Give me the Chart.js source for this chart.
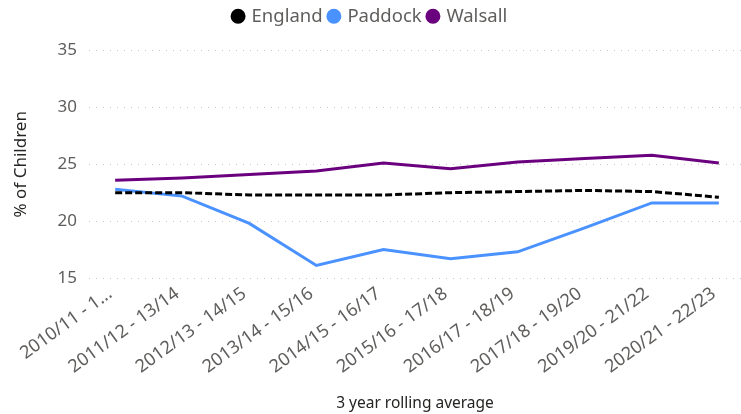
<!DOCTYPE html>
<html>
<head>
<meta charset="utf-8">
<script src="https://cdn.jsdelivr.net/npm/chart.js@4/dist/chart.umd.min.js"></script>
<style>
  html, body { margin: 0; padding: 0; background: #fff; }
  #wrap { width: 741px; height: 414px; }
</style>
</head>
<body>
<div id="wrap"><canvas id="chart" width="741" height="414"></canvas></div>
<script>
"use strict";

// data
var periods = [
  "2010/11 - 1...", "2011/12 - 13/14", "2012/13 - 14/15", "2013/14 - 15/16",
  "2014/15 - 16/17", "2015/16 - 17/18", "2016/17 - 18/19", "2017/18 - 19/20",
  "2019/20 - 21/22", "2020/21 - 22/23"
];
var england = [22.5, 22.5, 22.3, 22.3, 22.3, 22.5, 22.6, 22.7, 22.6, 22.1];
var paddock = [22.8, 22.2, 19.8, 16.1, 17.5, 16.7, 17.3, 19.4, 21.6, 21.6];
var walsall = [23.6, 23.8, 24.1, 24.4, 25.1, 24.6, 25.2, 25.5, 25.8, 25.1];
var yTicks = [15, 20, 25, 30, 35];

var greyText = "#605E5C";
var darkText = "#252423";
var fontFamily = "'Noto Sans', 'Open Sans', sans-serif";

// pair each value with its category index so the x axis can be padded unevenly
var toPoints = function(values) {
  return values.map(function(v, i) {
    return { x: i, y: v };
  });
};

var lineDataset = function(label, values, colour, dash) {
  return {
    label: label,
    data: toPoints(values),
    borderColor: colour,
    backgroundColor: colour,
    borderWidth: 3,
    borderDash: dash || [],
    pointRadius: 0,
    pointHoverRadius: 0,
    tension: 0,
    fill: false
  };
};

// leave some room between the legend and the plot
var legendGap = {
  id: "legendGap",
  beforeInit: function(chart) {
    var fit = chart.legend.fit;
    chart.legend.fit = function() {
      fit.bind(chart.legend)();
      this.height += 15;
    };
  }
};

new Chart(document.getElementById("chart"), {
  type: "line",
  data: {
    datasets: [
      lineDataset("England", england, "#000000", [7, 3]),
      lineDataset("Paddock", paddock, "#4A92FF"),
      lineDataset("Walsall", walsall, "#6B007F")
    ]
  },
  plugins: [legendGap],
  options: {
    responsive: false,
    animation: false,
    layout: { padding: 0 },
    plugins: {
      tooltip: { enabled: false },
      legend: {
        position: "top",
        labels: {
          usePointStyle: true,
          pointStyle: "circle",
          boxWidth: 8.5,
          boxHeight: 8.5,
          padding: 7,
          color: greyText,
          font: { family: fontFamily, size: 18.5 }
        }
      }
    },
    scales: {
      x: {
        type: "linear",
        min: -0.39,
        max: 9.33,
        afterBuildTicks: function(scale) {
          scale.ticks = periods.map(function(p, i) { return { value: i }; });
        },
        afterFit: function(scale) {
          scale.height = 136;
        },
        grid: { display: false },
        border: { display: false },
        ticks: {
          color: greyText,
          font: { family: fontFamily, size: 18 },
          minRotation: 36,
          maxRotation: 36,
          autoSkip: false,
          padding: -3,
          labelOffset: -5,
          callback: function(value) {
            return periods[value];
          }
        },
        title: {
          display: true,
          text: "3 year rolling average",
          color: darkText,
          font: { family: fontFamily, size: 15.5 },
          padding: { top: 0, bottom: 1 }
        }
      },
      y: {
        min: 15,
        max: 35,
        afterBuildTicks: function(scale) {
          scale.ticks = yTicks.map(function(v) { return { value: v }; });
        },
        afterFit: function(scale) {
          scale.width = 89;
        },
        grid: { color: "#C8C8C8", lineWidth: 1, drawTicks: false },
        border: { display: false, dash: [1, 6] },
        ticks: {
          color: greyText,
          font: { family: fontFamily, size: 17 },
          padding: 12
        },
        title: {
          display: true,
          text: "% of Children",
          color: darkText,
          font: { family: fontFamily, size: 17 },
          padding: { top: 11, bottom: 0 }
        }
      }
    }
  }
});
</script>
</body>
</html>
